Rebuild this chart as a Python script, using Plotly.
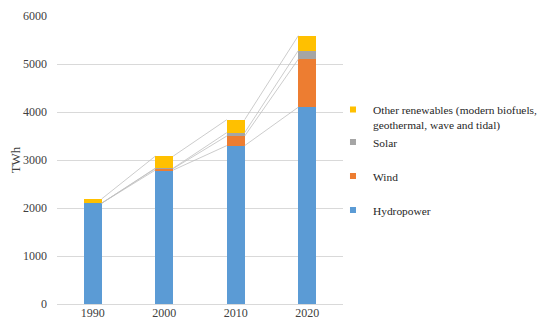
import plotly.graph_objects as go

years = ["1990", "2000", "2010", "2020"]
hydro = [2100, 2790, 3300, 4100]
wind = [0, 30, 200, 1000]
solar = [0, 10, 70, 180]
other = [90, 250, 270, 310]

names = ["Hydropower", "Wind", "Solar", "Other renewables (modern biofuels,<br>geothermal, wave and tidal)"]
colors = ["#5B9BD5", "#ED7D31", "#A5A5A5", "#FFC000"]
groups = ["c", "b", "a", "a"]
ranks = [4, 3, 2, 1]
series = [hydro, wind, solar, other]

xpos = list(range(len(years)))
bw = 0.25
FONT = "Liberation Serif"

fig = go.Figure()

# series lines (cumulative tops connecting bars)
cum = [0] * len(years)
for vals in series:
    cum = [c + v for c, v in zip(cum, vals)]
    xs, ys = [], []
    for i in range(len(years) - 1):
        xs += [xpos[i] + bw / 2, xpos[i + 1] - bw / 2, None]
        ys += [cum[i], cum[i + 1], None]
    fig.add_trace(go.Scatter(x=xs, y=ys, mode="lines", line=dict(color="#BFBFBF", width=0.8),
                             showlegend=False, hoverinfo="skip"))

for nm, col, vals, g, r in zip(names, colors, series, groups, ranks):
    fig.add_trace(go.Bar(x=xpos, y=vals, name=nm, marker=dict(color=col, line=dict(width=0)),
                         width=bw, showlegend=False))
    # legend entry with a small square swatch
    fig.add_trace(go.Scatter(x=[None], y=[None], mode="markers", name=nm,
                             marker=dict(symbol="square", size=6, color=col),
                             legendgroup=g, legendrank=r, showlegend=True))

fig.update_layout(
    barmode="stack",
    width=542, height=323,
    margin=dict(l=49, r=207, t=8, b=27, autoexpand=False),
    plot_bgcolor="white", paper_bgcolor="white",
    font=dict(family=FONT, size=12, color="#404040"),
    showlegend=True,
    legend=dict(x=0.965, y=0.724, xanchor="left", yanchor="top", traceorder="grouped",
                tracegroupgap=15, valign="top",
                font=dict(family=FONT, size=11.4, color="#262626"),
                itemwidth=30, bgcolor="rgba(0,0,0,0)"),
    xaxis=dict(tickmode="array", tickvals=xpos, ticktext=years, range=[-0.5, 3.5],
               showgrid=False, zeroline=False, showline=False, ticks="", automargin=False,
               tickfont=dict(family=FONT, size=12, color="#404040")),
    yaxis=dict(range=[0, 6000], dtick=1000, showgrid=True, gridcolor="#D9D9D9", gridwidth=1,
               zeroline=True, zerolinecolor="#D9D9D9", zerolinewidth=1, ticks="",
               ticklabelstandoff=9, automargin=True,
               title=dict(text="TWh", font=dict(family=FONT, size=13, color="#404040"), standoff=9),
               tickfont=dict(family=FONT, size=12, color="#404040")),
)

fig.write_html("out.html")
